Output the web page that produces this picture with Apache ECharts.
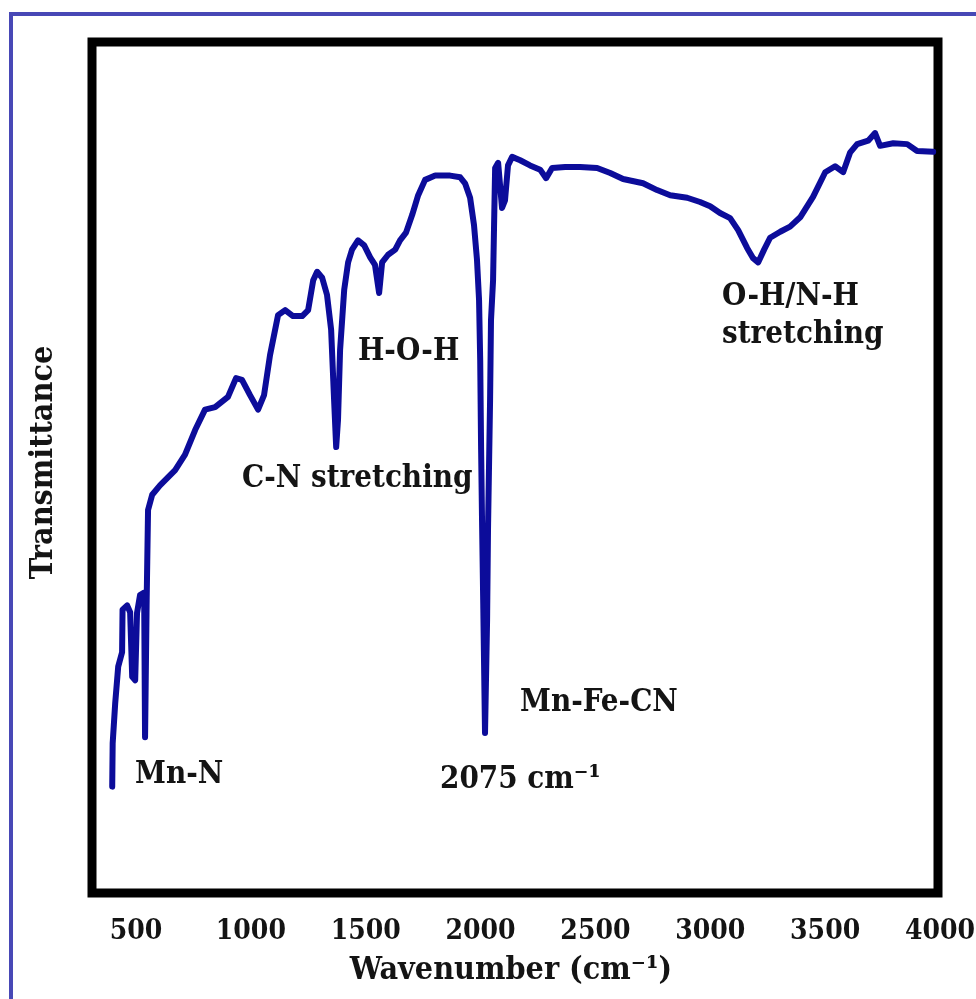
<!DOCTYPE html>
<html><head><meta charset="utf-8">
<script src="https://cdn.jsdelivr.net/npm/echarts@6/dist/echarts.min.js"></script>
<style>html,body{margin:0;padding:0;background:#fff}#c{width:976px;height:999px}</style>
</head><body><div id="c"></div><script>
const wavenumber = [396,398,409,422,439,441,461,474,483,496,504,517,535,539,546,552,570,604,670,713,757,800,844,900,935,961,996,1031,1057,1083,1118,1149,1183,1223,1249,1271,1288,1310,1331,1349,1362,1371,1379,1388,1406,1423,1440,1466,1493,1519,1540,1558,1571,1597,1628,1649,1675,1702,1728,1758,1802,1867,1911,1932,1954,1971,1984,1993,1998,2002,2006,2011,2019,2028,2032,2041,2045,2054,2058,2063,2076,2093,2106,2119,2137,2172,2215,2259,2285,2311,2368,2433,2507,2564,2620,2707,2768,2825,2899,2955,2999,3042,3086,3121,3160,3186,3208,3234,3260,3304,3347,3391,3447,3500,3543,3578,3608,3639,3687,3717,3739,3796,3857,3900,3970];
const transmittance = [12.5,17.6,22.3,26.6,28.3,33.3,33.8,33.0,25.4,25.0,32.9,35.0,35.3,18.3,34.4,45.0,46.8,47.9,49.7,51.5,54.4,56.8,57.1,58.3,60.5,60.3,58.5,56.8,58.5,63.2,67.9,68.5,67.8,67.8,68.5,72.0,73.0,72.3,70.3,66.2,57.9,52.4,55.6,63.8,70.9,74.1,75.6,76.7,76.1,74.7,73.8,70.5,74.1,75.0,75.6,76.7,77.6,79.7,82.0,83.8,84.3,84.3,84.1,83.4,81.7,78.5,74.4,69.7,62.6,52.1,43.8,34.4,18.8,32.1,42.7,57.9,67.3,72.0,77.9,85.2,85.8,80.5,81.4,85.5,86.5,86.1,85.5,85.0,84.0,85.2,85.3,85.3,85.2,84.6,83.9,83.4,82.6,82.0,81.7,81.2,80.7,79.9,79.3,77.9,75.8,74.6,74.1,75.6,77.0,77.7,78.3,79.4,81.8,84.7,85.4,84.7,87.0,88.0,88.4,89.3,87.8,88.1,88.0,87.2,87.1];
const tickLabels = ['500','1000','1500','2000','2500','3000','3500','4000'];
const xAxisTitle = 'Wavenumber (cm\u207B\u00B9)';
const yAxisTitle = 'Transmittance';
const bandLabels = ['Mn-N','C-N stretching','H-O-H','Mn-Fe-CN','2075 cm\u207B\u00B9','O-H/N-H','stretching'];

const FONT = '"DejaVu Serif Condensed", "DejaVu Serif", serif';
const TXT = '#141414';
const chart = echarts.init(document.getElementById('c'), null, {renderer:'canvas'});
function label(i, x, y, size){
  return {type:'text', x:x, y:y, z:10, style:{text:bandLabels[i], fill:TXT, font:'bold '+size+'px '+FONT, textAlign:'left', textVerticalAlign:'middle', verticalAlign:'middle'}};
}
const option = {
  animation:false,
  backgroundColor:'#fff',
  grid:[
    {left:92, right:38, top:42, bottom:106, show:true, borderColor:'#000', borderWidth:9, backgroundColor:'transparent', outerBoundsMode:'none'},
    {left:136, right:36, top:42, bottom:106, show:false, outerBoundsMode:'none'}
  ],
  xAxis:[
    {gridIndex:0, type:'value', min:308, max:3991, axisLine:{show:false}, axisTick:{show:false}, axisLabel:{show:false}, splitLine:{show:false},
     name:xAxisTitle, nameLocation:'middle', nameGap:62, nameTextStyle:{fontFamily:FONT, fontWeight:'bold', fontSize:32, color:TXT, padding:[0,8,0,0]}},
    {gridIndex:1, type:'value', min:500, max:4000, interval:500, axisLine:{show:false}, axisTick:{show:false}, splitLine:{show:false},
     axisLabel:{margin:25, showMinLabel:true, showMaxLabel:true, fontFamily:FONT, fontWeight:'bold', fontSize:28, color:TXT,
       formatter:function(v){ const k = Math.round((v-500)/500); return tickLabels[k] || ''; }}}
  ],
  yAxis:[
    {gridIndex:0, type:'value', min:0, max:100, axisLine:{show:false}, axisTick:{show:false}, axisLabel:{show:false}, splitLine:{show:false},
     name:yAxisTitle, nameLocation:'middle', nameGap:32, nameRotate:90, nameTextStyle:{fontFamily:FONT, fontWeight:'bold', fontSize:32, color:TXT, padding:[0,0,0,10]}},
    {gridIndex:1, type:'value', min:0, max:100, show:false}
  ],
  series:[{
    type:'line', xAxisIndex:0, yAxisIndex:0,
    data: wavenumber.map(function(w,i){ return [w, transmittance[i]]; }),
    showSymbol:false, symbol:'none', silent:true,
    lineStyle:{color:'#0c0c9a', width:6, join:'round', cap:'round'}, z:3
  }],
  graphic:[
    {type:'rect', z:0, shape:{x:11, y:14, width:1000, height:1000}, style:{fill:'none', stroke:'#4848b6', lineWidth:4}},
    label(0, 135, 775, 31),
    label(1, 242, 479, 31),
    label(2, 358, 352, 31),
    label(3, 520, 703, 31),
    label(4, 440, 780, 31),
    label(5, 722, 297, 31),
    label(6, 722, 335, 31)
  ]
};
chart.setOption(option);
</script></body></html>
